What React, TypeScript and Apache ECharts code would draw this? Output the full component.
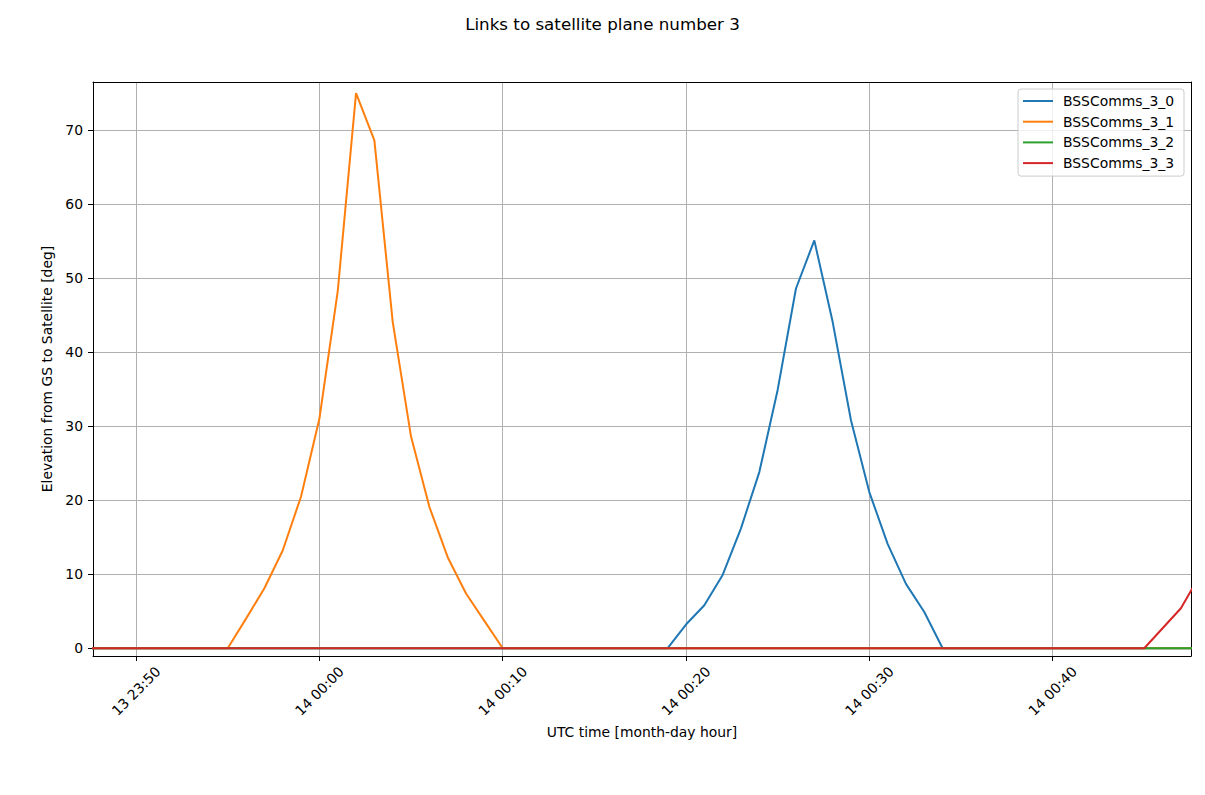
import React, { useEffect, useRef } from "react";
import * as echarts from "echarts";

// minutes relative to 14 00:00 UTC
const minutes = [
  -13, -12, -11, -10, -9, -8, -7, -6, -5, -4, -3, -2, -1, 0, 1, 2, 3, 4, 5, 6,
  7, 8, 9, 10, 11, 12, 13, 14, 15, 16, 17, 18, 19, 20, 21, 22, 23, 24, 25, 26,
  27, 28, 29, 30, 31, 32, 33, 34, 35, 36, 37, 38, 39, 40, 41, 42, 43, 44, 45,
  46, 47, 48,
];

const comms30 = [
  0, 0, 0, 0, 0, 0, 0, 0, 0, 0, 0, 0, 0, 0, 0, 0, 0, 0, 0, 0,
  0, 0, 0, 0, 0, 0, 0, 0, 0, 0, 0, 0, 0, 3.2, 5.8, 9.9, 16.2, 23.8, 34.9, 48.6,
  55.1, 44.1, 30.8, 21.1, 14.1, 8.7, 4.9, 0, 0, 0, 0, 0, 0, 0, 0, 0, 0, 0, 0,
  0, 0, 0,
];

const comms31 = [
  0, 0, 0, 0, 0, 0, 0, 0, 0, 4.0, 8.1, 13.2, 20.5, 31.0, 48.2, 75.0, 68.6, 44.1, 28.6, 19.1,
  12.3, 7.4, 3.7, 0, 0, 0, 0, 0, 0, 0, 0, 0, 0, 0, 0, 0, 0, 0, 0, 0,
  0, 0, 0, 0, 0, 0, 0, 0, 0, 0, 0, 0, 0, 0, 0, 0, 0, 0, 0,
  0, 0, 0,
];

const comms32 = [
  0, 0, 0, 0, 0, 0, 0, 0, 0, 0, 0, 0, 0, 0, 0, 0, 0, 0, 0, 0,
  0, 0, 0, 0, 0, 0, 0, 0, 0, 0, 0, 0, 0, 0, 0, 0, 0, 0, 0, 0,
  0, 0, 0, 0, 0, 0, 0, 0, 0, 0, 0, 0, 0, 0, 0, 0, 0, 0, 0,
  0, 0, 0,
];

const comms33 = [
  0, 0, 0, 0, 0, 0, 0, 0, 0, 0, 0, 0, 0, 0, 0, 0, 0, 0, 0, 0,
  0, 0, 0, 0, 0, 0, 0, 0, 0, 0, 0, 0, 0, 0, 0, 0, 0, 0, 0, 0,
  0, 0, 0, 0, 0, 0, 0, 0, 0, 0, 0, 0, 0, 0, 0, 0, 0, 0, 0,
  2.7, 5.4, 9.7,
];

const seriesNames = ["BSSComms_3_0", "BSSComms_3_1", "BSSComms_3_2", "BSSComms_3_3"];
const seriesColors = ["#1f77b4", "#ff7f0e", "#2ca02c", "#d62728"];

const xTickMinutes = [-10, 0, 10, 20, 30, 40];
const xTickLabels = ["13 23:50", "14 00:00", "14 00:10", "14 00:20", "14 00:30", "14 00:40"];
const yTickValues = [0, 10, 20, 30, 40, 50, 60, 70];

const X_MIN = -12.35;
const X_MAX = 47.55;
const Y_MIN = -1.05;
const Y_MAX = 76.5;

const FONT = "DejaVu Sans";

export default function App() {
  const ref = useRef<HTMLDivElement>(null);

  useEffect(() => {
    if (!ref.current) return;
    const chart = echarts.init(ref.current, undefined, { renderer: "svg" });
    const allValues = [comms30, comms31, comms32, comms33];

    const xFormatter = (v: number) => {
      const idx = xTickMinutes.findIndex((m) => Math.abs(m - v) < 1e-6);
      return idx >= 0 ? xTickLabels[idx] : "";
    };
    const yFormatter = (v: number) => {
      const idx = yTickValues.findIndex((m) => Math.abs(m - v) < 1e-6);
      return idx >= 0 ? String(yTickValues[idx]) : "";
    };

    const frameAxis = {
      type: "value",
      axisLine: { show: true, onZero: false, lineStyle: { color: "#000", width: 1 } },
      axisTick: { show: false },
      axisLabel: { show: false },
      splitLine: { show: false },
    };

    chart.setOption({
      animation: false,
      backgroundColor: "#ffffff",
      textStyle: { fontFamily: FONT },
      title: {
        text: "Links to satellite plane number 3",
        left: "center",
        top: 10,
        textStyle: { fontFamily: FONT, fontSize: 16.7, fontWeight: "normal", color: "#000" },
      },
      legend: {
        orient: "vertical",
        right: 21,
        top: 89,
        padding: [5, 10, 6, 5],
        itemGap: 6.7,
        itemWidth: 30,
        itemHeight: 2,
        icon: "rect",
        backgroundColor: "rgba(255,255,255,0.8)",
        borderColor: "#cccccc",
        borderWidth: 1,
        borderRadius: 3,
        data: seriesNames,
        textStyle: { fontFamily: FONT, fontSize: 13.9, color: "#000", padding: [0, 0, 0, 5] },
      },
      grid: {
        left: 93,
        right: 14,
        top: 82,
        bottom: 139,
        show: false,
        containLabel: false,
      },
      xAxis: [
        {
          type: "value",
          min: X_MIN,
          max: X_MAX,
          splitNumber: 5,
          name: "UTC time [month-day hour]",
          nameLocation: "middle",
          nameGap: 67,
          nameTextStyle: { fontFamily: FONT, fontSize: 13.9, color: "#000" },
          axisLine: { show: true, onZero: false, lineStyle: { color: "#000", width: 1 } },
          axisTick: { show: true, length: 5, lineStyle: { color: "#000", width: 1 } },
          axisLabel: {
            formatter: xFormatter,
            rotate: 45,
            align: "center",
            verticalAlign: "middle",
            margin: 35,
            fontFamily: FONT,
            fontSize: 13.9,
            color: "#000",
            showMinLabel: false,
            showMaxLabel: false,
          },
          splitLine: { show: true, lineStyle: { color: "#b0b0b0", width: 1 } },
        },
        { ...frameAxis, position: "top", min: X_MIN, max: X_MAX },
      ],
      yAxis: [
        {
          type: "value",
          min: Y_MIN,
          max: Y_MAX,
          splitNumber: 8,
          name: "Elevation from GS to Satellite [deg]",
          nameLocation: "middle",
          nameGap: 28,
          nameRotate: 90,
          nameTextStyle: { fontFamily: FONT, fontSize: 13.9, color: "#000" },
          axisLine: { show: true, onZero: false, lineStyle: { color: "#000", width: 1 } },
          axisTick: { show: true, length: 5, lineStyle: { color: "#000", width: 1 } },
          axisLabel: {
            formatter: yFormatter,
            margin: 10,
            fontFamily: FONT,
            fontSize: 13.9,
            color: "#000",
            showMinLabel: false,
            showMaxLabel: false,
          },
          splitLine: { show: true, lineStyle: { color: "#b0b0b0", width: 1 } },
        },
        { ...frameAxis, position: "right", min: Y_MIN, max: Y_MAX },
      ],
      series: seriesNames.map((name, i) => ({
        name,
        type: "line",
        xAxisIndex: 0,
        yAxisIndex: 0,
        data: minutes.map((m, j) => [m, allValues[i][j]]),
        showSymbol: false,
        symbol: "none",
        clip: true,
        color: seriesColors[i],
        lineStyle: { color: seriesColors[i], width: 2 },
        z: 2 + i,
      })),
    });

    return () => chart.dispose();
  }, []);

  return (
    <div
      ref={ref}
      style={{ position: "absolute", left: 0, top: 0, width: 1205, height: 795 }}
    />
  );
}
